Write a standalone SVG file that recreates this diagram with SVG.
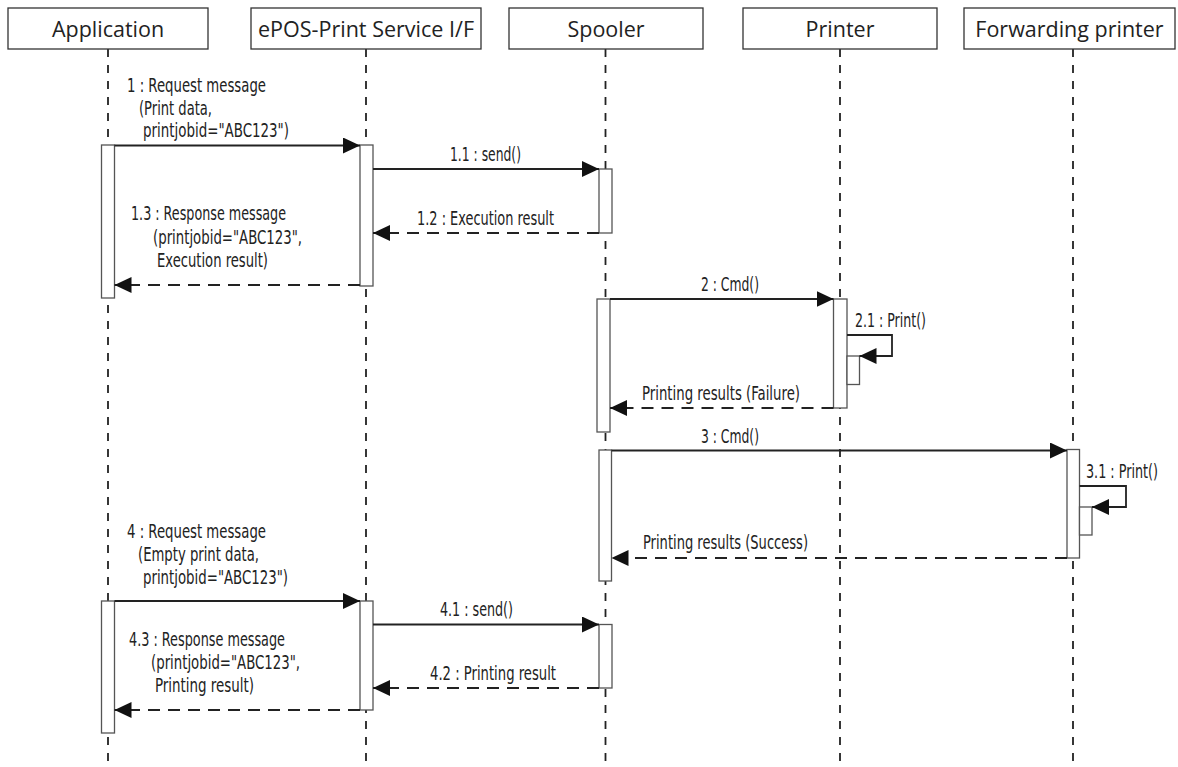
<svg xmlns="http://www.w3.org/2000/svg" width="1178" height="767" viewBox="0 0 1178 767">
<style>
.hdr{fill:#fff;stroke:#333;stroke-width:1.3}
.ht{font-family:"Open Sans","Liberation Sans",sans-serif;font-size:21.5px;fill:#222;text-anchor:middle}
.life{stroke:#222;stroke-width:1.8;stroke-dasharray:8 8;fill:none}
.bar{fill:#fff;stroke:#555;stroke-width:1.3}
.msg{stroke:#222;stroke-width:1.8;fill:none;marker-end:url(#ah)}
.ret{stroke:#222;stroke-width:1.8;fill:none;stroke-dasharray:12 8;marker-end:url(#ah)}
.lb{font-family:"Liberation Sans Narrow","DejaVu Sans Condensed","Liberation Sans",sans-serif;font-size:19px;fill:#222}
</style>
<defs>
<marker id="ah" markerUnits="userSpaceOnUse" markerWidth="18" markerHeight="17" refX="17" refY="8" orient="auto">
<path d="M0,0 L17,8 L0,16 z" fill="#111"/>
</marker>
</defs>
<rect width="1178" height="767" fill="#fff"/>

<g id="lifelines">
<line class="life" x1="108" y1="49" x2="108" y2="767"/>
<line class="life" x1="366" y1="49" x2="366" y2="767"/>
<line class="life" x1="605.5" y1="49" x2="605.5" y2="767"/>
<line class="life" x1="840" y1="49" x2="840" y2="767"/>
<line class="life" x1="1073" y1="49" x2="1073" y2="767"/>
</g>

<g id="node-application">
<rect class="hdr" x="8" y="8" width="200" height="41"/>
<text class="ht" x="108" y="36.5">Application</text>
<rect class="bar" x="101.5" y="145" width="13" height="153"/>
<rect class="bar" x="101.5" y="601" width="13" height="132"/>
</g>

<g id="node-epos">
<rect class="hdr" x="251" y="8" width="230" height="41"/>
<text class="ht" x="366" y="36.5" textLength="216" lengthAdjust="spacingAndGlyphs">ePOS-Print Service I/F</text>
<rect class="bar" x="360" y="145" width="13" height="141"/>
<rect class="bar" x="360" y="601" width="13" height="109"/>
</g>

<g id="node-spooler">
<rect class="hdr" x="509" y="8" width="194" height="41"/>
<text class="ht" x="606" y="36.5">Spooler</text>
<rect class="bar" x="599" y="169" width="13" height="64"/>
<rect class="bar" x="597" y="299" width="13" height="133"/>
<rect class="bar" x="599" y="450" width="12.5" height="131"/>
<rect class="bar" x="599" y="624.5" width="13" height="63.5"/>
</g>

<g id="node-printer">
<rect class="hdr" x="743" y="8" width="194" height="41"/>
<text class="ht" x="840" y="36.5">Printer</text>
<rect class="bar" x="833.5" y="299" width="13.5" height="109"/>
<rect class="bar" x="847" y="356" width="12.5" height="28.5"/>
</g>

<g id="node-forwarding">
<rect class="hdr" x="964" y="8" width="211" height="41"/>
<text class="ht" x="1069.5" y="36.5">Forwarding printer</text>
<rect class="bar" x="1067" y="449.5" width="12.5" height="108.5"/>
<rect class="bar" x="1079.5" y="507" width="12.5" height="28"/>
</g>

<g id="connectors">
<line class="msg" x1="114.5" y1="145.5" x2="360" y2="145.5"/>
<line class="msg" x1="373" y1="169" x2="599" y2="169"/>
<line class="ret" x1="599" y1="233" x2="373" y2="233"/>
<line class="ret" x1="360" y1="285" x2="114.5" y2="285"/>
<line class="msg" x1="610" y1="299" x2="833.5" y2="299"/>
<polyline class="msg" points="847,335 892,335 892,356 859.5,356"/>
<line class="ret" x1="833.5" y1="408" x2="610" y2="408"/>
<line class="msg" x1="611.5" y1="450.5" x2="1067" y2="450.5"/>
<polyline class="msg" points="1079.5,486 1126,486 1126,507 1092,507"/>
<line class="ret" x1="1067" y1="558" x2="611.5" y2="558"/>
<line class="msg" x1="114.5" y1="601" x2="360" y2="601"/>
<line class="msg" x1="373" y1="624.5" x2="599" y2="624.5"/>
<line class="ret" x1="599" y1="688" x2="373" y2="688"/>
<line class="ret" x1="360" y1="710" x2="114.5" y2="710"/>
</g>

<g id="labels">
<text class="lb" x="127" y="92" textLength="139" lengthAdjust="spacingAndGlyphs">1 : Request message</text>
<text class="lb" x="139" y="114.5" textLength="73" lengthAdjust="spacingAndGlyphs">(Print data,</text>
<text class="lb" x="143" y="137" textLength="146" lengthAdjust="spacingAndGlyphs">printjobid="ABC123")</text>
<text class="lb" x="450" y="161" textLength="71" lengthAdjust="spacingAndGlyphs">1.1 : send()</text>
<text class="lb" x="417" y="225" textLength="137" lengthAdjust="spacingAndGlyphs">1.2 : Execution result</text>
<text class="lb" x="131" y="220" textLength="155" lengthAdjust="spacingAndGlyphs">1.3 : Response message</text>
<text class="lb" x="153" y="243.5" textLength="149" lengthAdjust="spacingAndGlyphs">(printjobid="ABC123",</text>
<text class="lb" x="157" y="267" textLength="111" lengthAdjust="spacingAndGlyphs">Execution result)</text>
<text class="lb" x="701" y="291" textLength="58" lengthAdjust="spacingAndGlyphs">2 : Cmd()</text>
<text class="lb" x="855" y="326.5" textLength="71" lengthAdjust="spacingAndGlyphs">2.1 : Print()</text>
<text class="lb" x="642" y="400" textLength="158" lengthAdjust="spacingAndGlyphs">Printing results (Failure)</text>
<text class="lb" x="701" y="443" textLength="58" lengthAdjust="spacingAndGlyphs">3 : Cmd()</text>
<text class="lb" transform="translate(1086 478) scale(0.72 1)" x="0" y="0" textLength="100" lengthAdjust="spacingAndGlyphs">3.1 : Print()</text>
<text class="lb" x="643" y="549" textLength="165" lengthAdjust="spacingAndGlyphs">Printing results (Success)</text>
<text class="lb" x="127" y="538" textLength="139" lengthAdjust="spacingAndGlyphs">4 : Request message</text>
<text class="lb" x="138" y="561" textLength="121" lengthAdjust="spacingAndGlyphs">(Empty print data,</text>
<text class="lb" x="143" y="584" textLength="145" lengthAdjust="spacingAndGlyphs">printjobid="ABC123")</text>
<text class="lb" x="440" y="616" textLength="73" lengthAdjust="spacingAndGlyphs">4.1 : send()</text>
<text class="lb" x="430" y="680" textLength="126" lengthAdjust="spacingAndGlyphs">4.2 : Printing result</text>
<text class="lb" x="129" y="646" textLength="156" lengthAdjust="spacingAndGlyphs">4.3 : Response message</text>
<text class="lb" x="151" y="669" textLength="149" lengthAdjust="spacingAndGlyphs">(printjobid="ABC123",</text>
<text class="lb" x="155" y="692" textLength="99" lengthAdjust="spacingAndGlyphs">Printing result)</text>
</g>
</svg>
